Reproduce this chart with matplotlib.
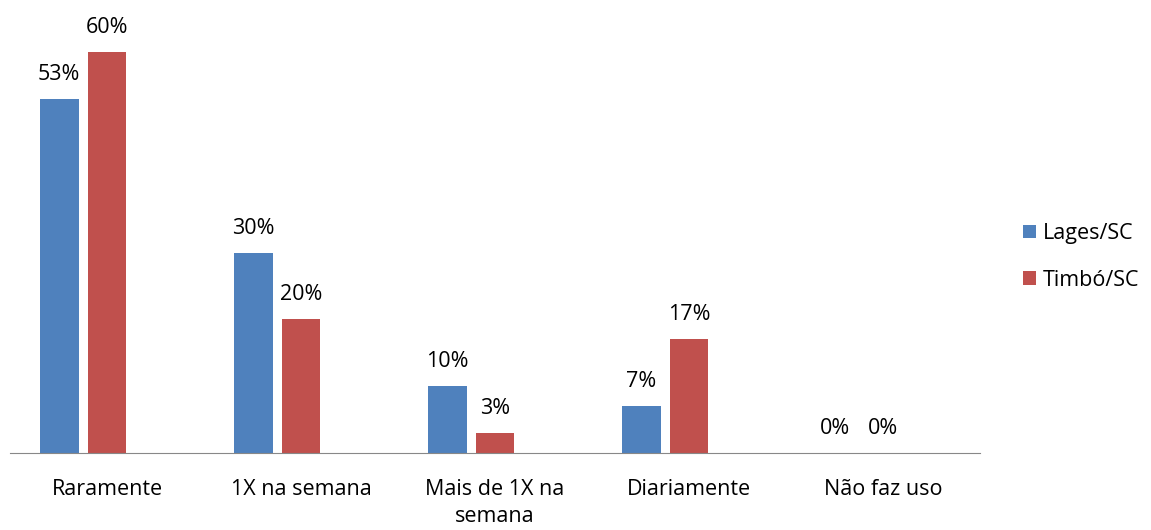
import numpy as np
import matplotlib.pyplot as plt

categories = ["Raramente", "1X na semana", "Mais de 1X na\nsemana", "Diariamente", "Não faz uso"]
lages = [53, 30, 10, 7, 0]
timbo = [60, 20, 3, 17, 0]
series_names = ["Lages/SC", "Timbó/SC"]

plt.rcParams['font.family'] = ['Open Sans', 'DejaVu Sans']

fig = plt.figure(figsize=(11.51, 5.30), dpi=100)
ax = fig.add_axes([10 / 1151, 1 - 453 / 530, 970 / 1151, 434 / 530])

x = np.arange(len(categories))
w = 0.201
step = 0.247
b1 = ax.bar(x - step, lages, w, color='#4f81bd', label=series_names[0])
b2 = ax.bar(x, timbo, w, color='#c0504d', label=series_names[1])

for bars in (b1, b2):
    for bar in bars:
        ax.annotate(f"{bar.get_height():.0f}%",
                    (bar.get_x() + bar.get_width() / 2, bar.get_height()),
                    xytext=(0, 13.7), textcoords='offset points',
                    ha='center', va='baseline', fontsize=15.5, color='black')

ax.set_xlim(-0.5, len(categories) - 0.5)
ax.set_ylim(0, 65)
ax.set_xticks(x)
ax.set_xticklabels(categories, fontsize=15.5, color='black', linespacing=1.35)
ax.tick_params(axis='x', length=0, pad=19)
ax.set_yticks([])
for s in ['top', 'right', 'left']:
    ax.spines[s].set_visible(False)
ax.spines['bottom'].set_color('#888888')

fig.legend(handles=[b1, b2], loc='center left', bbox_to_anchor=(1004 / 1151, 1 - 257 / 530),
           frameon=False, fontsize=15.5, handlelength=0.6, handleheight=0.6,
           handletextpad=0.3, labelspacing=1.2)

fig.savefig("out.png", dpi=100)
